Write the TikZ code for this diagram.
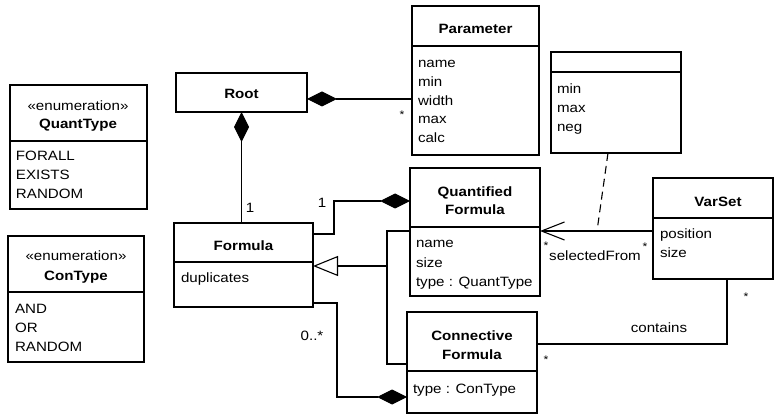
\documentclass[tikz,border=0pt]{standalone}
\usepackage{fontspec}
\setmainfont[FakeStretch=1.12]{Liberation Sans}
\usetikzlibrary{arrows.meta}
\begin{document}
\begin{tikzpicture}[x=1pt,y=-1pt,
  every node/.style={inner sep=0pt,outer sep=0pt},
  box/.style={draw,line width=1.1pt,anchor=north west},
  ttl/.style={font=\fontsize{13.5}{16}\selectfont\bfseries,text height=12pt,text depth=0pt},
  txt/.style={font=\fontsize{13.5}{16}\selectfont,text height=12pt,text depth=0pt},
  attr/.style={txt,anchor=west},
  star/.style={font=\fontsize{11}{12}\selectfont,text height=3pt,text depth=0.2pt},
  conn/.style={line width=1.1pt},
  comp/.style={conn,{Diamond[length=30pt,width=15pt]}-},
  gen/.style={conn,-{Triangle[open,length=25pt,width=20pt,fill=white]}},
  nav/.style={conn,-{Straight Barb[length=23pt,width=18pt]}},
  dep/.style={conn,dash pattern=on 8pt off 5pt}
]
\useasboundingbox (0,0) rectangle (774,414);

% QuantType
\node[box,minimum width=137pt,minimum height=124pt] (qt) at (10,85) {};
\draw[conn] ([yshift=-56pt]qt.north west) -- ([yshift=-56pt]qt.north east);
\node[txt] (qt-st) at (78,105) {«enumeration»};
\node[ttl] (qt-t) at (78,123) {QuantType};
\node[attr] (qt-a1) at (16,155) {FORALL};
\node[attr] (qt-a2) at (16,174) {EXISTS};
\node[attr] (qt-a3) at (16,193) {RANDOM};

% ConType
\node[box,minimum width=136pt,minimum height=126pt] (ct) at (8,236) {};
\draw[conn] ([yshift=-56pt]ct.north west) -- ([yshift=-56pt]ct.north east);
\node[txt] (ct-st) at (76,255) {«enumeration»};
\node[ttl] (ct-t) at (76,274) {ConType};
\node[attr] (ct-a1) at (15,307) {AND};
\node[attr] (ct-a2) at (15,326) {OR};
\node[attr] (ct-a3) at (15,345) {RANDOM};

% Root
\node[box,minimum width=131pt,minimum height=39pt] (root) at (176,73) {};
\node[ttl] (root-t) at (241.5,93) {Root};

% Parameter
\node[box,minimum width=127pt,minimum height=149pt] (param) at (412,6) {};
\draw[conn] ([yshift=-40pt]param.north west) -- ([yshift=-40pt]param.north east);
\node[ttl] (param-t) at (475.5,28) {Parameter};
\node[attr] (param-a1) at (418,62) {name};
\node[attr] (param-a2) at (418,81) {min};
\node[attr] (param-a3) at (418,100) {width};
\node[attr] (param-a4) at (418,118) {max};
\node[attr] (param-a5) at (418,137) {calc};

% anonymous class
\node[box,minimum width=130pt,minimum height=101pt] (anon) at (551,52) {};
\draw[conn] ([yshift=-20pt]anon.north west) -- ([yshift=-20pt]anon.north east);
\node[attr] (anon-a1) at (557,88) {min};
\node[attr] (anon-a2) at (557,107) {max};
\node[attr] (anon-a3) at (557,126) {neg};

% VarSet
\node[box,minimum width=120pt,minimum height=101pt] (varset) at (653,178) {};
\draw[conn] ([yshift=-40pt]varset.north west) -- ([yshift=-40pt]varset.north east);
\node[ttl] (varset-t) at (718,201) {VarSet};
\node[attr] (varset-a1) at (660,233) {position};
\node[attr] (varset-a2) at (660,252) {size};

% Formula
\node[box,minimum width=139pt,minimum height=84pt] (formula) at (174,223) {};
\draw[conn] ([yshift=-39pt]formula.north west) -- ([yshift=-39pt]formula.north east);
\node[ttl] (formula-t) at (243.5,245) {Formula};
\node[attr] (formula-a1) at (181,277) {duplicates};

% Quantified Formula
\node[box,minimum width=130pt,minimum height=128pt] (qf) at (410,168) {};
\draw[conn] ([yshift=-59pt]qf.north west) -- ([yshift=-59pt]qf.north east);
\node[ttl] (qf-t1) at (475,191) {Quantified};
\node[ttl] (qf-t2) at (475,209) {Formula};
\node[attr] (qf-a1) at (416,242) {name};
\node[attr] (qf-a2) at (416,262) {size};
\node[attr] (qf-a3) at (416,281) {type : QuantType};

% Connective Formula
\node[box,minimum width=130pt,minimum height=101pt] (cf) at (407,312) {};
\draw[conn] ([yshift=-59pt]cf.north west) -- ([yshift=-59pt]cf.north east);
\node[ttl] (cf-t1) at (472,334) {Connective};
\node[ttl] (cf-t2) at (472,353) {Formula};
\node[attr] (cf-a1) at (413,387) {type : ConType};

% connectors
\draw[comp] (root.east |- 0,99) -- (param.west |- 0,99);
\draw[comp] (root.south) -- (root.south |- formula.north);
\draw[comp] (qf.west |- 0,201) -- (334,201) -- (334,234) -- (formula.east |- 0,234);
\draw[comp] (cf.west |- 0,397) -- (337,397) -- (337,303) -- (formula.east |- 0,303);
\draw[gen] (387,266) -- (formula.east |- 0,266);
\draw[conn] (qf.west |- 0,231) -- (387,231) -- (387,364) -- (cf.west |- 0,364);
\draw[nav] (varset.west |- 0,231) -- (qf.east |- 0,231);
\coordinate (dj) at (597,231);
\draw[dep] (anon.south -| 608,0) -- (dj);
\draw[conn] (cf.east |- 0,344) -- (727,344) -- (varset.south -| 727,0);

% labels
\node[star] (l1) at (402,112) {\raisebox{-5pt}{*}};
\node[txt] (l2) at (250,207) {1};
\node[txt] (l3) at (322,202) {1};
\node[txt] (l4) at (312,334) {0..*};
\node[star] (l5) at (546,243) {\raisebox{-5pt}{*}};
\node[star] (l6) at (645,244) {\raisebox{-5pt}{*}};
\node[txt] (l7) at (595,255) {selectedFrom};
\node[star] (l8) at (546,357) {\raisebox{-5pt}{*}};
\node[star] (l9) at (746,294) {\raisebox{-5pt}{*}};
\node[txt] (l10) at (659,326) {contains};
\end{tikzpicture}
\end{document}
